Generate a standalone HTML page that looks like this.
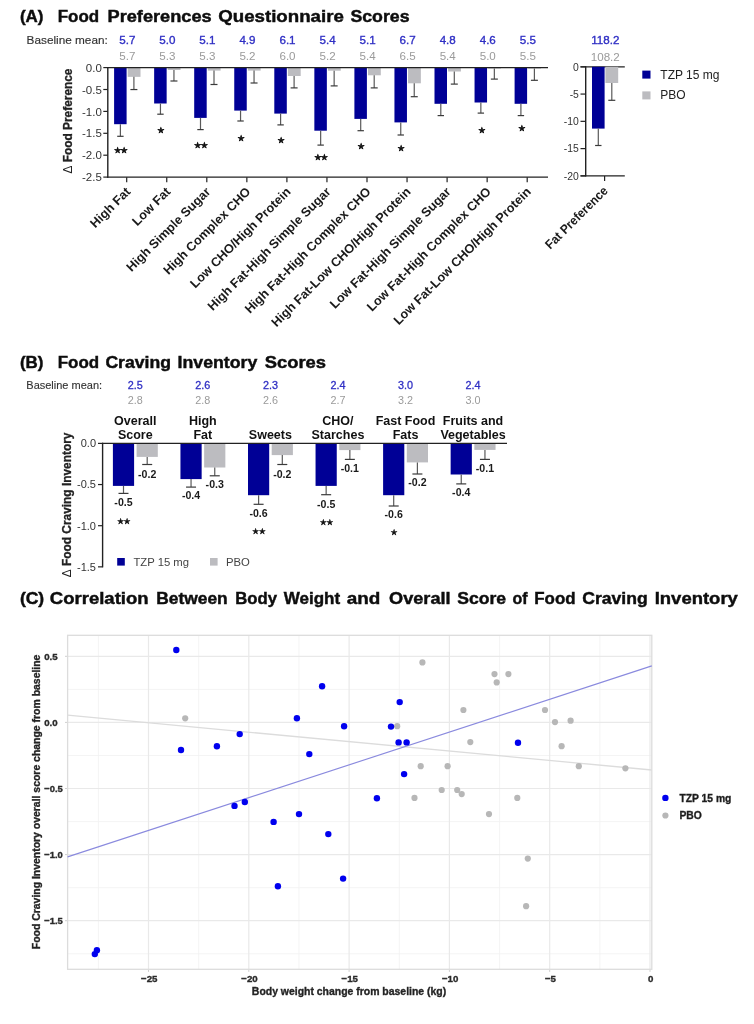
<!DOCTYPE html>
<html lang="en"><head><meta charset="utf-8"><title>Figure</title>
<style>
html,body{margin:0;padding:0;background:#fff;}
body{width:754px;height:1024px;overflow:hidden;}
svg{display:block;filter:blur(0.6px);font-family:'Liberation Sans', Arial, sans-serif;}
</style></head><body>
<svg width="754" height="1024" viewBox="0 0 754 1024">
<rect width="754" height="1024" fill="#ffffff"/>
<text x="19.90" y="22.40" font-size="17.2" font-weight="bold" fill="#0d0d0d" stroke="#0d0d0d" stroke-width="0.45" textLength="23.50" lengthAdjust="spacingAndGlyphs">(A)</text>
<text x="57.70" y="22.40" font-size="17.2" font-weight="bold" fill="#0d0d0d" stroke="#0d0d0d" stroke-width="0.45" textLength="41.40" lengthAdjust="spacingAndGlyphs">Food</text>
<text x="107.50" y="22.40" font-size="17.2" font-weight="bold" fill="#0d0d0d" stroke="#0d0d0d" stroke-width="0.45" textLength="104.20" lengthAdjust="spacingAndGlyphs">Preferences</text>
<text x="218.20" y="22.40" font-size="17.2" font-weight="bold" fill="#0d0d0d" stroke="#0d0d0d" stroke-width="0.45" textLength="125.60" lengthAdjust="spacingAndGlyphs">Questionnaire</text>
<text x="350.40" y="22.40" font-size="17.2" font-weight="bold" fill="#0d0d0d" stroke="#0d0d0d" stroke-width="0.45" textLength="59.10" lengthAdjust="spacingAndGlyphs">Scores</text>
<text x="26.60" y="43.90" font-size="11.7" font-weight="normal" fill="#333" text-anchor="start" textLength="81.2" lengthAdjust="spacingAndGlyphs" stroke="#333" stroke-width="0.15">Baseline mean:</text>
<rect x="114.10" y="67.60" width="12.50" height="56.60" fill="#000096"/>
<rect x="127.70" y="67.60" width="12.80" height="9.25" fill="#bcbcc0"/>
<line x1="120.40" y1="124.20" x2="120.40" y2="136.30" stroke="#5a5a5a" stroke-width="1.2" />
<line x1="117.20" y1="136.30" x2="123.60" y2="136.30" stroke="#3a3a3a" stroke-width="1.2" />
<line x1="133.90" y1="76.85" x2="133.90" y2="89.55" stroke="#5a5a5a" stroke-width="1.2" />
<line x1="130.40" y1="89.55" x2="137.40" y2="89.55" stroke="#3a3a3a" stroke-width="1.2" />
<text x="127.30" y="43.90" font-size="11.6" font-weight="normal" fill="#2f2fc4" text-anchor="middle" stroke="#2f2fc4" stroke-width="0.35">5.7</text>
<text x="127.30" y="59.90" font-size="11.6" font-weight="normal" fill="#9a9a9a" text-anchor="middle" >5.7</text>
<text x="120.60" y="153.10" font-size="8.1" font-weight="normal" fill="#111" text-anchor="middle" font-family="DejaVu Sans, sans-serif" letter-spacing="-0.6" stroke="#111" stroke-width="0.6" stroke-linejoin="round">★★</text>
<line x1="126.70" y1="177.20" x2="126.70" y2="182.20" stroke="#222" stroke-width="1.2" />
<text transform="translate(131.20,192.50) rotate(-45)" font-size="12.7" font-weight="bold" fill="#1a1a1a" text-anchor="end">High Fat</text>
<rect x="154.15" y="67.60" width="12.50" height="35.90" fill="#000096"/>
<rect x="167.75" y="67.60" width="12.80" height="2.40" fill="#bcbcc0"/>
<line x1="160.45" y1="103.50" x2="160.45" y2="114.20" stroke="#5a5a5a" stroke-width="1.2" />
<line x1="157.25" y1="114.20" x2="163.65" y2="114.20" stroke="#3a3a3a" stroke-width="1.2" />
<line x1="173.95" y1="70.00" x2="173.95" y2="81.00" stroke="#5a5a5a" stroke-width="1.2" />
<line x1="170.45" y1="81.00" x2="177.45" y2="81.00" stroke="#3a3a3a" stroke-width="1.2" />
<text x="167.35" y="43.90" font-size="11.6" font-weight="normal" fill="#2f2fc4" text-anchor="middle" stroke="#2f2fc4" stroke-width="0.35">5.0</text>
<text x="167.35" y="59.90" font-size="11.6" font-weight="normal" fill="#9a9a9a" text-anchor="middle" >5.3</text>
<text x="160.65" y="132.50" font-size="8.1" font-weight="normal" fill="#111" text-anchor="middle" font-family="DejaVu Sans, sans-serif" letter-spacing="-0.6" stroke="#111" stroke-width="0.6" stroke-linejoin="round">★</text>
<line x1="166.75" y1="177.20" x2="166.75" y2="182.20" stroke="#222" stroke-width="1.2" />
<text transform="translate(171.25,192.50) rotate(-45)" font-size="12.7" font-weight="bold" fill="#1a1a1a" text-anchor="end">Low Fat</text>
<rect x="194.20" y="67.60" width="12.50" height="50.30" fill="#000096"/>
<rect x="207.80" y="67.60" width="12.80" height="3.00" fill="#bcbcc0"/>
<line x1="200.50" y1="117.90" x2="200.50" y2="129.60" stroke="#5a5a5a" stroke-width="1.2" />
<line x1="197.30" y1="129.60" x2="203.70" y2="129.60" stroke="#3a3a3a" stroke-width="1.2" />
<line x1="214.00" y1="70.60" x2="214.00" y2="84.50" stroke="#5a5a5a" stroke-width="1.2" />
<line x1="210.50" y1="84.50" x2="217.50" y2="84.50" stroke="#3a3a3a" stroke-width="1.2" />
<text x="207.40" y="43.90" font-size="11.6" font-weight="normal" fill="#2f2fc4" text-anchor="middle" stroke="#2f2fc4" stroke-width="0.35">5.1</text>
<text x="207.40" y="59.90" font-size="11.6" font-weight="normal" fill="#9a9a9a" text-anchor="middle" >5.3</text>
<text x="200.70" y="148.00" font-size="8.1" font-weight="normal" fill="#111" text-anchor="middle" font-family="DejaVu Sans, sans-serif" letter-spacing="-0.6" stroke="#111" stroke-width="0.6" stroke-linejoin="round">★★</text>
<line x1="206.80" y1="177.20" x2="206.80" y2="182.20" stroke="#222" stroke-width="1.2" />
<text transform="translate(211.30,192.50) rotate(-45)" font-size="12.7" font-weight="bold" fill="#1a1a1a" text-anchor="end">High Simple Sugar</text>
<rect x="234.25" y="67.60" width="12.50" height="43.00" fill="#000096"/>
<rect x="247.85" y="67.60" width="12.80" height="3.00" fill="#bcbcc0"/>
<line x1="240.55" y1="110.60" x2="240.55" y2="121.00" stroke="#5a5a5a" stroke-width="1.2" />
<line x1="237.35" y1="121.00" x2="243.75" y2="121.00" stroke="#3a3a3a" stroke-width="1.2" />
<line x1="254.05" y1="70.60" x2="254.05" y2="83.00" stroke="#5a5a5a" stroke-width="1.2" />
<line x1="250.55" y1="83.00" x2="257.55" y2="83.00" stroke="#3a3a3a" stroke-width="1.2" />
<text x="247.45" y="43.90" font-size="11.6" font-weight="normal" fill="#2f2fc4" text-anchor="middle" stroke="#2f2fc4" stroke-width="0.35">4.9</text>
<text x="247.45" y="59.90" font-size="11.6" font-weight="normal" fill="#9a9a9a" text-anchor="middle" >5.2</text>
<text x="240.75" y="140.70" font-size="8.1" font-weight="normal" fill="#111" text-anchor="middle" font-family="DejaVu Sans, sans-serif" letter-spacing="-0.6" stroke="#111" stroke-width="0.6" stroke-linejoin="round">★</text>
<line x1="246.85" y1="177.20" x2="246.85" y2="182.20" stroke="#222" stroke-width="1.2" />
<text transform="translate(251.35,192.50) rotate(-45)" font-size="12.7" font-weight="bold" fill="#1a1a1a" text-anchor="end">High Complex CHO</text>
<rect x="274.30" y="67.60" width="12.50" height="46.00" fill="#000096"/>
<rect x="287.90" y="67.60" width="12.80" height="8.40" fill="#bcbcc0"/>
<line x1="280.60" y1="113.60" x2="280.60" y2="124.90" stroke="#5a5a5a" stroke-width="1.2" />
<line x1="277.40" y1="124.90" x2="283.80" y2="124.90" stroke="#3a3a3a" stroke-width="1.2" />
<line x1="294.10" y1="76.00" x2="294.10" y2="87.90" stroke="#5a5a5a" stroke-width="1.2" />
<line x1="290.60" y1="87.90" x2="297.60" y2="87.90" stroke="#3a3a3a" stroke-width="1.2" />
<text x="287.50" y="43.90" font-size="11.6" font-weight="normal" fill="#2f2fc4" text-anchor="middle" stroke="#2f2fc4" stroke-width="0.35">6.1</text>
<text x="287.50" y="59.90" font-size="11.6" font-weight="normal" fill="#9a9a9a" text-anchor="middle" >6.0</text>
<text x="280.80" y="143.20" font-size="8.1" font-weight="normal" fill="#111" text-anchor="middle" font-family="DejaVu Sans, sans-serif" letter-spacing="-0.6" stroke="#111" stroke-width="0.6" stroke-linejoin="round">★</text>
<line x1="286.90" y1="177.20" x2="286.90" y2="182.20" stroke="#222" stroke-width="1.2" />
<text transform="translate(291.40,192.50) rotate(-45)" font-size="12.7" font-weight="bold" fill="#1a1a1a" text-anchor="end">Low CHO/High Protein</text>
<rect x="314.35" y="67.60" width="12.50" height="63.10" fill="#000096"/>
<rect x="327.95" y="67.60" width="12.80" height="3.10" fill="#bcbcc0"/>
<line x1="320.65" y1="130.70" x2="320.65" y2="145.10" stroke="#5a5a5a" stroke-width="1.2" />
<line x1="317.45" y1="145.10" x2="323.85" y2="145.10" stroke="#3a3a3a" stroke-width="1.2" />
<line x1="334.15" y1="70.70" x2="334.15" y2="85.90" stroke="#5a5a5a" stroke-width="1.2" />
<line x1="330.65" y1="85.90" x2="337.65" y2="85.90" stroke="#3a3a3a" stroke-width="1.2" />
<text x="327.55" y="43.90" font-size="11.6" font-weight="normal" fill="#2f2fc4" text-anchor="middle" stroke="#2f2fc4" stroke-width="0.35">5.4</text>
<text x="327.55" y="59.90" font-size="11.6" font-weight="normal" fill="#9a9a9a" text-anchor="middle" >5.2</text>
<text x="320.85" y="159.90" font-size="8.1" font-weight="normal" fill="#111" text-anchor="middle" font-family="DejaVu Sans, sans-serif" letter-spacing="-0.6" stroke="#111" stroke-width="0.6" stroke-linejoin="round">★★</text>
<line x1="326.95" y1="177.20" x2="326.95" y2="182.20" stroke="#222" stroke-width="1.2" />
<text transform="translate(331.45,192.50) rotate(-45)" font-size="12.7" font-weight="bold" fill="#1a1a1a" text-anchor="end">High Fat-High Simple Sugar</text>
<rect x="354.40" y="67.60" width="12.50" height="51.30" fill="#000096"/>
<rect x="368.00" y="67.60" width="12.80" height="7.70" fill="#bcbcc0"/>
<line x1="360.70" y1="118.90" x2="360.70" y2="130.70" stroke="#5a5a5a" stroke-width="1.2" />
<line x1="357.50" y1="130.70" x2="363.90" y2="130.70" stroke="#3a3a3a" stroke-width="1.2" />
<line x1="374.20" y1="75.30" x2="374.20" y2="87.90" stroke="#5a5a5a" stroke-width="1.2" />
<line x1="370.70" y1="87.90" x2="377.70" y2="87.90" stroke="#3a3a3a" stroke-width="1.2" />
<text x="367.60" y="43.90" font-size="11.6" font-weight="normal" fill="#2f2fc4" text-anchor="middle" stroke="#2f2fc4" stroke-width="0.35">5.1</text>
<text x="367.60" y="59.90" font-size="11.6" font-weight="normal" fill="#9a9a9a" text-anchor="middle" >5.4</text>
<text x="360.90" y="148.50" font-size="8.1" font-weight="normal" fill="#111" text-anchor="middle" font-family="DejaVu Sans, sans-serif" letter-spacing="-0.6" stroke="#111" stroke-width="0.6" stroke-linejoin="round">★</text>
<line x1="367.00" y1="177.20" x2="367.00" y2="182.20" stroke="#222" stroke-width="1.2" />
<text transform="translate(371.50,192.50) rotate(-45)" font-size="12.7" font-weight="bold" fill="#1a1a1a" text-anchor="end">High Fat-High Complex CHO</text>
<rect x="394.45" y="67.60" width="12.50" height="54.80" fill="#000096"/>
<rect x="408.05" y="67.60" width="12.80" height="15.70" fill="#bcbcc0"/>
<line x1="400.75" y1="122.40" x2="400.75" y2="135.00" stroke="#5a5a5a" stroke-width="1.2" />
<line x1="397.55" y1="135.00" x2="403.95" y2="135.00" stroke="#3a3a3a" stroke-width="1.2" />
<line x1="414.25" y1="83.30" x2="414.25" y2="96.70" stroke="#5a5a5a" stroke-width="1.2" />
<line x1="410.75" y1="96.70" x2="417.75" y2="96.70" stroke="#3a3a3a" stroke-width="1.2" />
<text x="407.65" y="43.90" font-size="11.6" font-weight="normal" fill="#2f2fc4" text-anchor="middle" stroke="#2f2fc4" stroke-width="0.35">6.7</text>
<text x="407.65" y="59.90" font-size="11.6" font-weight="normal" fill="#9a9a9a" text-anchor="middle" >6.5</text>
<text x="400.95" y="150.90" font-size="8.1" font-weight="normal" fill="#111" text-anchor="middle" font-family="DejaVu Sans, sans-serif" letter-spacing="-0.6" stroke="#111" stroke-width="0.6" stroke-linejoin="round">★</text>
<line x1="407.05" y1="177.20" x2="407.05" y2="182.20" stroke="#222" stroke-width="1.2" />
<text transform="translate(411.55,192.50) rotate(-45)" font-size="12.7" font-weight="bold" fill="#1a1a1a" text-anchor="end">High Fat-Low CHO/High Protein</text>
<rect x="434.50" y="67.60" width="12.50" height="36.20" fill="#000096"/>
<rect x="448.10" y="67.60" width="12.80" height="3.90" fill="#bcbcc0"/>
<line x1="440.80" y1="103.80" x2="440.80" y2="115.60" stroke="#5a5a5a" stroke-width="1.2" />
<line x1="437.60" y1="115.60" x2="444.00" y2="115.60" stroke="#3a3a3a" stroke-width="1.2" />
<line x1="454.30" y1="71.50" x2="454.30" y2="84.10" stroke="#5a5a5a" stroke-width="1.2" />
<line x1="450.80" y1="84.10" x2="457.80" y2="84.10" stroke="#3a3a3a" stroke-width="1.2" />
<text x="447.70" y="43.90" font-size="11.6" font-weight="normal" fill="#2f2fc4" text-anchor="middle" stroke="#2f2fc4" stroke-width="0.35">4.8</text>
<text x="447.70" y="59.90" font-size="11.6" font-weight="normal" fill="#9a9a9a" text-anchor="middle" >5.4</text>
<line x1="447.10" y1="177.20" x2="447.10" y2="182.20" stroke="#222" stroke-width="1.2" />
<text transform="translate(451.60,192.50) rotate(-45)" font-size="12.7" font-weight="bold" fill="#1a1a1a" text-anchor="end">Low Fat-High Simple Sugar</text>
<rect x="474.55" y="67.60" width="12.50" height="34.90" fill="#000096"/>
<rect x="488.15" y="67.60" width="12.80" height="1.00" fill="#bcbcc0"/>
<line x1="480.85" y1="102.50" x2="480.85" y2="113.10" stroke="#5a5a5a" stroke-width="1.2" />
<line x1="477.65" y1="113.10" x2="484.05" y2="113.10" stroke="#3a3a3a" stroke-width="1.2" />
<line x1="494.35" y1="68.60" x2="494.35" y2="79.10" stroke="#5a5a5a" stroke-width="1.2" />
<line x1="490.85" y1="79.10" x2="497.85" y2="79.10" stroke="#3a3a3a" stroke-width="1.2" />
<text x="487.75" y="43.90" font-size="11.6" font-weight="normal" fill="#2f2fc4" text-anchor="middle" stroke="#2f2fc4" stroke-width="0.35">4.6</text>
<text x="487.75" y="59.90" font-size="11.6" font-weight="normal" fill="#9a9a9a" text-anchor="middle" >5.0</text>
<text x="481.55" y="132.80" font-size="8.1" font-weight="normal" fill="#111" text-anchor="middle" font-family="DejaVu Sans, sans-serif" letter-spacing="-0.6" stroke="#111" stroke-width="0.6" stroke-linejoin="round">★</text>
<line x1="487.15" y1="177.20" x2="487.15" y2="182.20" stroke="#222" stroke-width="1.2" />
<text transform="translate(491.65,192.50) rotate(-45)" font-size="12.7" font-weight="bold" fill="#1a1a1a" text-anchor="end">Low Fat-High Complex CHO</text>
<rect x="514.60" y="67.60" width="12.50" height="36.20" fill="#000096"/>
<rect x="528.20" y="67.60" width="12.80" height="1.00" fill="#bcbcc0"/>
<line x1="520.90" y1="103.80" x2="520.90" y2="115.60" stroke="#5a5a5a" stroke-width="1.2" />
<line x1="517.70" y1="115.60" x2="524.10" y2="115.60" stroke="#3a3a3a" stroke-width="1.2" />
<line x1="534.40" y1="68.60" x2="534.40" y2="80.30" stroke="#5a5a5a" stroke-width="1.2" />
<line x1="530.90" y1="80.30" x2="537.90" y2="80.30" stroke="#3a3a3a" stroke-width="1.2" />
<text x="527.80" y="43.90" font-size="11.6" font-weight="normal" fill="#2f2fc4" text-anchor="middle" stroke="#2f2fc4" stroke-width="0.35">5.5</text>
<text x="527.80" y="59.90" font-size="11.6" font-weight="normal" fill="#9a9a9a" text-anchor="middle" >5.5</text>
<text x="521.60" y="130.70" font-size="8.1" font-weight="normal" fill="#111" text-anchor="middle" font-family="DejaVu Sans, sans-serif" letter-spacing="-0.6" stroke="#111" stroke-width="0.6" stroke-linejoin="round">★</text>
<line x1="527.20" y1="177.20" x2="527.20" y2="182.20" stroke="#222" stroke-width="1.2" />
<text transform="translate(531.70,192.50) rotate(-45)" font-size="12.7" font-weight="bold" fill="#1a1a1a" text-anchor="end">Low Fat-Low CHO/High Protein</text>
<line x1="107.80" y1="67.00" x2="107.80" y2="177.80" stroke="#222" stroke-width="1.4" />
<line x1="107.10" y1="67.60" x2="548.00" y2="67.60" stroke="#222" stroke-width="1.3" />
<line x1="107.10" y1="177.20" x2="548.00" y2="177.20" stroke="#222" stroke-width="1.3" />
<line x1="103.30" y1="67.60" x2="107.80" y2="67.60" stroke="#222" stroke-width="1.2" />
<text x="101.80" y="71.70" font-size="11.5" font-weight="normal" fill="#333" text-anchor="end" >0.0</text>
<line x1="103.30" y1="89.50" x2="107.80" y2="89.50" stroke="#222" stroke-width="1.2" />
<text x="101.80" y="93.60" font-size="11.5" font-weight="normal" fill="#333" text-anchor="end" >-0.5</text>
<line x1="103.30" y1="111.40" x2="107.80" y2="111.40" stroke="#222" stroke-width="1.2" />
<text x="101.80" y="115.50" font-size="11.5" font-weight="normal" fill="#333" text-anchor="end" >-1.0</text>
<line x1="103.30" y1="133.30" x2="107.80" y2="133.30" stroke="#222" stroke-width="1.2" />
<text x="101.80" y="137.40" font-size="11.5" font-weight="normal" fill="#333" text-anchor="end" >-1.5</text>
<line x1="103.30" y1="155.20" x2="107.80" y2="155.20" stroke="#222" stroke-width="1.2" />
<text x="101.80" y="159.30" font-size="11.5" font-weight="normal" fill="#333" text-anchor="end" >-2.0</text>
<line x1="103.30" y1="177.10" x2="107.80" y2="177.10" stroke="#222" stroke-width="1.2" />
<text x="101.80" y="181.20" font-size="11.5" font-weight="normal" fill="#333" text-anchor="end" >-2.5</text>
<text transform="translate(72.0,173.6) rotate(-90)" font-size="11.9" font-weight="bold" fill="#222" stroke="#222" stroke-width="0.3"><tspan font-weight="normal" stroke="none">Δ</tspan> Food Preference</text>
<line x1="585.70" y1="66.20" x2="585.70" y2="176.50" stroke="#222" stroke-width="1.4" />
<line x1="580.50" y1="66.80" x2="624.80" y2="66.80" stroke="#222" stroke-width="1.3" />
<line x1="580.50" y1="175.90" x2="624.80" y2="175.90" stroke="#222" stroke-width="1.3" />
<line x1="580.50" y1="66.80" x2="585.70" y2="66.80" stroke="#222" stroke-width="1.2" />
<text x="578.90" y="70.50" font-size="10.4" font-weight="normal" fill="#333" text-anchor="end" >0</text>
<line x1="580.50" y1="94.07" x2="585.70" y2="94.07" stroke="#222" stroke-width="1.2" />
<text x="578.90" y="97.77" font-size="10.4" font-weight="normal" fill="#333" text-anchor="end" >-5</text>
<line x1="580.50" y1="121.34" x2="585.70" y2="121.34" stroke="#222" stroke-width="1.2" />
<text x="578.90" y="125.04" font-size="10.4" font-weight="normal" fill="#333" text-anchor="end" >-10</text>
<line x1="580.50" y1="148.61" x2="585.70" y2="148.61" stroke="#222" stroke-width="1.2" />
<text x="578.90" y="152.31" font-size="10.4" font-weight="normal" fill="#333" text-anchor="end" >-15</text>
<line x1="580.50" y1="175.88" x2="585.70" y2="175.88" stroke="#222" stroke-width="1.2" />
<text x="578.90" y="179.58" font-size="10.4" font-weight="normal" fill="#333" text-anchor="end" >-20</text>
<rect x="592.00" y="66.80" width="12.60" height="61.80" fill="#000096"/>
<rect x="605.40" y="66.80" width="12.80" height="16.20" fill="#bcbcc0"/>
<line x1="598.30" y1="128.60" x2="598.30" y2="145.50" stroke="#5a5a5a" stroke-width="1.2" />
<line x1="595.10" y1="145.50" x2="601.50" y2="145.50" stroke="#3a3a3a" stroke-width="1.2" />
<line x1="611.80" y1="83.00" x2="611.80" y2="100.30" stroke="#5a5a5a" stroke-width="1.2" />
<line x1="608.30" y1="100.30" x2="615.30" y2="100.30" stroke="#3a3a3a" stroke-width="1.2" />
<line x1="604.60" y1="175.90" x2="604.60" y2="180.90" stroke="#222" stroke-width="1.2" />
<text x="605.30" y="44.40" font-size="11.6" font-weight="normal" fill="#2f2fc4" text-anchor="middle" stroke="#2f2fc4" stroke-width="0.35">118.2</text>
<text x="605.30" y="60.60" font-size="11.6" font-weight="normal" fill="#9a9a9a" text-anchor="middle" >108.2</text>
<text transform="translate(608.60,191.50) rotate(-45) scale(0.935,1)" font-size="12.7" font-weight="bold" fill="#1a1a1a" text-anchor="end">Fat Preference</text>
<rect x="642.30" y="70.60" width="8.20" height="8.00" fill="#000096"/>
<rect x="642.30" y="91.40" width="8.20" height="8.00" fill="#bcbcc0"/>
<text x="660.30" y="78.80" font-size="12" font-weight="normal" fill="#222" text-anchor="start" >TZP 15 mg</text>
<text x="660.30" y="98.80" font-size="12" font-weight="normal" fill="#222" text-anchor="start" >PBO</text>
<text x="19.90" y="368.20" font-size="17.2" font-weight="bold" fill="#0d0d0d" stroke="#0d0d0d" stroke-width="0.45" textLength="23.50" lengthAdjust="spacingAndGlyphs">(B)</text>
<text x="57.70" y="368.20" font-size="17.2" font-weight="bold" fill="#0d0d0d" stroke="#0d0d0d" stroke-width="0.45" textLength="41.40" lengthAdjust="spacingAndGlyphs">Food</text>
<text x="105.40" y="368.20" font-size="17.2" font-weight="bold" fill="#0d0d0d" stroke="#0d0d0d" stroke-width="0.45" textLength="65.60" lengthAdjust="spacingAndGlyphs">Craving</text>
<text x="177.60" y="368.20" font-size="17.2" font-weight="bold" fill="#0d0d0d" stroke="#0d0d0d" stroke-width="0.45" textLength="79.70" lengthAdjust="spacingAndGlyphs">Inventory</text>
<text x="264.70" y="368.20" font-size="17.2" font-weight="bold" fill="#0d0d0d" stroke="#0d0d0d" stroke-width="0.45" textLength="61.30" lengthAdjust="spacingAndGlyphs">Scores</text>
<text x="26.30" y="388.90" font-size="10.9" font-weight="normal" fill="#333" text-anchor="start" textLength="75.8" lengthAdjust="spacingAndGlyphs" stroke="#333" stroke-width="0.12">Baseline mean:</text>
<rect x="112.90" y="443.40" width="21.20" height="42.50" fill="#000096"/>
<rect x="136.60" y="443.40" width="21.20" height="13.50" fill="#bcbcc0"/>
<line x1="123.50" y1="485.90" x2="123.50" y2="493.40" stroke="#5a5a5a" stroke-width="1.2" />
<line x1="118.50" y1="493.40" x2="128.50" y2="493.40" stroke="#3a3a3a" stroke-width="1.2" />
<line x1="147.20" y1="456.90" x2="147.20" y2="464.50" stroke="#5a5a5a" stroke-width="1.2" />
<line x1="142.20" y1="464.50" x2="152.20" y2="464.50" stroke="#3a3a3a" stroke-width="1.2" />
<text x="123.50" y="506.40" font-size="10.6" font-weight="bold" fill="#1a1a1a" text-anchor="middle" >-0.5</text>
<text x="147.20" y="477.50" font-size="10.6" font-weight="bold" fill="#1a1a1a" text-anchor="middle" >-0.2</text>
<text x="135.30" y="388.90" font-size="10.8" font-weight="normal" fill="#2f2fc4" text-anchor="middle" stroke="#2f2fc4" stroke-width="0.3">2.5</text>
<text x="135.30" y="404.20" font-size="10.8" font-weight="normal" fill="#9a9a9a" text-anchor="middle" >2.8</text>
<text x="135.30" y="424.60" font-size="12.5" font-weight="bold" fill="#111" text-anchor="middle" >Overall</text>
<text x="135.30" y="439.20" font-size="12.5" font-weight="bold" fill="#111" text-anchor="middle" >Score</text>
<text x="123.60" y="523.60" font-size="8.0" font-weight="normal" fill="#111" text-anchor="middle" font-family="DejaVu Sans, sans-serif" letter-spacing="-0.6" stroke="#111" stroke-width="0.45" stroke-linejoin="round">★★</text>
<rect x="180.45" y="443.40" width="21.20" height="35.70" fill="#000096"/>
<rect x="204.15" y="443.40" width="21.20" height="24.10" fill="#bcbcc0"/>
<line x1="191.05" y1="479.10" x2="191.05" y2="487.10" stroke="#5a5a5a" stroke-width="1.2" />
<line x1="186.05" y1="487.10" x2="196.05" y2="487.10" stroke="#3a3a3a" stroke-width="1.2" />
<line x1="214.75" y1="467.50" x2="214.75" y2="475.80" stroke="#5a5a5a" stroke-width="1.2" />
<line x1="209.75" y1="475.80" x2="219.75" y2="475.80" stroke="#3a3a3a" stroke-width="1.2" />
<text x="191.05" y="499.40" font-size="10.6" font-weight="bold" fill="#1a1a1a" text-anchor="middle" >-0.4</text>
<text x="214.75" y="488.10" font-size="10.6" font-weight="bold" fill="#1a1a1a" text-anchor="middle" >-0.3</text>
<text x="202.85" y="388.90" font-size="10.8" font-weight="normal" fill="#2f2fc4" text-anchor="middle" stroke="#2f2fc4" stroke-width="0.3">2.6</text>
<text x="202.85" y="404.20" font-size="10.8" font-weight="normal" fill="#9a9a9a" text-anchor="middle" >2.8</text>
<text x="202.85" y="424.60" font-size="12.5" font-weight="bold" fill="#111" text-anchor="middle" >High</text>
<text x="202.85" y="439.20" font-size="12.5" font-weight="bold" fill="#111" text-anchor="middle" >Fat</text>
<rect x="248.00" y="443.40" width="21.20" height="51.80" fill="#000096"/>
<rect x="271.70" y="443.40" width="21.20" height="11.70" fill="#bcbcc0"/>
<line x1="258.60" y1="495.20" x2="258.60" y2="504.30" stroke="#5a5a5a" stroke-width="1.2" />
<line x1="253.60" y1="504.30" x2="263.60" y2="504.30" stroke="#3a3a3a" stroke-width="1.2" />
<line x1="282.30" y1="455.10" x2="282.30" y2="464.50" stroke="#5a5a5a" stroke-width="1.2" />
<line x1="277.30" y1="464.50" x2="287.30" y2="464.50" stroke="#3a3a3a" stroke-width="1.2" />
<text x="258.60" y="516.50" font-size="10.6" font-weight="bold" fill="#1a1a1a" text-anchor="middle" >-0.6</text>
<text x="282.30" y="477.50" font-size="10.6" font-weight="bold" fill="#1a1a1a" text-anchor="middle" >-0.2</text>
<text x="270.40" y="388.90" font-size="10.8" font-weight="normal" fill="#2f2fc4" text-anchor="middle" stroke="#2f2fc4" stroke-width="0.3">2.3</text>
<text x="270.40" y="404.20" font-size="10.8" font-weight="normal" fill="#9a9a9a" text-anchor="middle" >2.6</text>
<text x="270.40" y="439.20" font-size="12.5" font-weight="bold" fill="#111" text-anchor="middle" >Sweets</text>
<text x="258.70" y="534.20" font-size="8.0" font-weight="normal" fill="#111" text-anchor="middle" font-family="DejaVu Sans, sans-serif" letter-spacing="-0.6" stroke="#111" stroke-width="0.45" stroke-linejoin="round">★★</text>
<rect x="315.55" y="443.40" width="21.20" height="42.50" fill="#000096"/>
<rect x="339.25" y="443.40" width="21.20" height="6.70" fill="#bcbcc0"/>
<line x1="326.15" y1="485.90" x2="326.15" y2="494.70" stroke="#5a5a5a" stroke-width="1.2" />
<line x1="321.15" y1="494.70" x2="331.15" y2="494.70" stroke="#3a3a3a" stroke-width="1.2" />
<line x1="349.85" y1="450.10" x2="349.85" y2="459.40" stroke="#5a5a5a" stroke-width="1.2" />
<line x1="344.85" y1="459.40" x2="354.85" y2="459.40" stroke="#3a3a3a" stroke-width="1.2" />
<text x="326.15" y="507.70" font-size="10.6" font-weight="bold" fill="#1a1a1a" text-anchor="middle" >-0.5</text>
<text x="349.85" y="472.40" font-size="10.6" font-weight="bold" fill="#1a1a1a" text-anchor="middle" >-0.1</text>
<text x="337.95" y="388.90" font-size="10.8" font-weight="normal" fill="#2f2fc4" text-anchor="middle" stroke="#2f2fc4" stroke-width="0.3">2.4</text>
<text x="337.95" y="404.20" font-size="10.8" font-weight="normal" fill="#9a9a9a" text-anchor="middle" >2.7</text>
<text x="337.95" y="424.60" font-size="12.5" font-weight="bold" fill="#111" text-anchor="middle" >CHO/</text>
<text x="337.95" y="439.20" font-size="12.5" font-weight="bold" fill="#111" text-anchor="middle" >Starches</text>
<text x="326.25" y="524.80" font-size="8.0" font-weight="normal" fill="#111" text-anchor="middle" font-family="DejaVu Sans, sans-serif" letter-spacing="-0.6" stroke="#111" stroke-width="0.45" stroke-linejoin="round">★★</text>
<rect x="383.10" y="443.40" width="21.20" height="51.80" fill="#000096"/>
<rect x="406.80" y="443.40" width="21.20" height="19.00" fill="#bcbcc0"/>
<line x1="393.70" y1="495.20" x2="393.70" y2="506.00" stroke="#5a5a5a" stroke-width="1.2" />
<line x1="388.70" y1="506.00" x2="398.70" y2="506.00" stroke="#3a3a3a" stroke-width="1.2" />
<line x1="417.40" y1="462.40" x2="417.40" y2="474.00" stroke="#5a5a5a" stroke-width="1.2" />
<line x1="412.40" y1="474.00" x2="422.40" y2="474.00" stroke="#3a3a3a" stroke-width="1.2" />
<text x="393.70" y="517.80" font-size="10.6" font-weight="bold" fill="#1a1a1a" text-anchor="middle" >-0.6</text>
<text x="417.40" y="486.30" font-size="10.6" font-weight="bold" fill="#1a1a1a" text-anchor="middle" >-0.2</text>
<text x="405.50" y="388.90" font-size="10.8" font-weight="normal" fill="#2f2fc4" text-anchor="middle" stroke="#2f2fc4" stroke-width="0.3">3.0</text>
<text x="405.50" y="404.20" font-size="10.8" font-weight="normal" fill="#9a9a9a" text-anchor="middle" >3.2</text>
<text x="405.50" y="424.60" font-size="12.5" font-weight="bold" fill="#111" text-anchor="middle" >Fast Food</text>
<text x="405.50" y="439.20" font-size="12.5" font-weight="bold" fill="#111" text-anchor="middle" >Fats</text>
<text x="393.80" y="535.30" font-size="8.0" font-weight="normal" fill="#111" text-anchor="middle" font-family="DejaVu Sans, sans-serif" letter-spacing="-0.6" stroke="#111" stroke-width="0.45" stroke-linejoin="round">★</text>
<rect x="450.65" y="443.40" width="21.20" height="31.10" fill="#000096"/>
<rect x="474.35" y="443.40" width="21.20" height="6.50" fill="#bcbcc0"/>
<line x1="461.25" y1="474.50" x2="461.25" y2="483.90" stroke="#5a5a5a" stroke-width="1.2" />
<line x1="456.25" y1="483.90" x2="466.25" y2="483.90" stroke="#3a3a3a" stroke-width="1.2" />
<line x1="484.95" y1="449.90" x2="484.95" y2="459.40" stroke="#5a5a5a" stroke-width="1.2" />
<line x1="479.95" y1="459.40" x2="489.95" y2="459.40" stroke="#3a3a3a" stroke-width="1.2" />
<text x="461.25" y="495.60" font-size="10.6" font-weight="bold" fill="#1a1a1a" text-anchor="middle" >-0.4</text>
<text x="484.95" y="472.40" font-size="10.6" font-weight="bold" fill="#1a1a1a" text-anchor="middle" >-0.1</text>
<text x="473.05" y="388.90" font-size="10.8" font-weight="normal" fill="#2f2fc4" text-anchor="middle" stroke="#2f2fc4" stroke-width="0.3">2.4</text>
<text x="473.05" y="404.20" font-size="10.8" font-weight="normal" fill="#9a9a9a" text-anchor="middle" >3.0</text>
<text x="473.05" y="424.60" font-size="12.5" font-weight="bold" fill="#111" text-anchor="middle" >Fruits and</text>
<text x="473.05" y="439.20" font-size="12.5" font-weight="bold" fill="#111" text-anchor="middle" >Vegetables</text>
<line x1="102.60" y1="442.80" x2="102.60" y2="567.40" stroke="#222" stroke-width="1.4" />
<line x1="101.90" y1="443.40" x2="507.00" y2="443.40" stroke="#222" stroke-width="1.3" />
<line x1="98.00" y1="443.40" x2="102.60" y2="443.40" stroke="#222" stroke-width="1.2" />
<text x="96.00" y="447.30" font-size="11.0" font-weight="normal" fill="#333" text-anchor="end" >0.0</text>
<line x1="98.00" y1="484.55" x2="102.60" y2="484.55" stroke="#222" stroke-width="1.2" />
<text x="96.00" y="488.45" font-size="11.0" font-weight="normal" fill="#333" text-anchor="end" >-0.5</text>
<line x1="98.00" y1="525.70" x2="102.60" y2="525.70" stroke="#222" stroke-width="1.2" />
<text x="96.00" y="529.60" font-size="11.0" font-weight="normal" fill="#333" text-anchor="end" >-1.0</text>
<line x1="98.00" y1="566.85" x2="102.60" y2="566.85" stroke="#222" stroke-width="1.2" />
<text x="96.00" y="570.75" font-size="11.0" font-weight="normal" fill="#333" text-anchor="end" >-1.5</text>
<text transform="translate(70.8,577.3) rotate(-90)" font-size="11.9" font-weight="bold" fill="#222" stroke="#222" stroke-width="0.3"><tspan font-weight="normal" stroke="none">Δ</tspan> Food Craving Inventory</text>
<rect x="117.20" y="558.00" width="7.60" height="7.60" fill="#000096"/>
<rect x="210.00" y="558.00" width="7.60" height="7.60" fill="#bcbcc0"/>
<text x="133.40" y="565.80" font-size="11.3" font-weight="normal" fill="#444" text-anchor="start" >TZP 15 mg</text>
<text x="226.00" y="565.80" font-size="11.3" font-weight="normal" fill="#444" text-anchor="start" >PBO</text>
<text x="19.90" y="604.20" font-size="17.3" font-weight="bold" fill="#0d0d0d" stroke="#0d0d0d" stroke-width="0.45" textLength="24.30" lengthAdjust="spacingAndGlyphs">(C)</text>
<text x="49.80" y="604.20" font-size="17.3" font-weight="bold" fill="#0d0d0d" stroke="#0d0d0d" stroke-width="0.45" textLength="98.80" lengthAdjust="spacingAndGlyphs">Correlation</text>
<text x="156.20" y="604.20" font-size="17.3" font-weight="bold" fill="#0d0d0d" stroke="#0d0d0d" stroke-width="0.45" textLength="71.50" lengthAdjust="spacingAndGlyphs">Between</text>
<text x="235.30" y="604.20" font-size="17.3" font-weight="bold" fill="#0d0d0d" stroke="#0d0d0d" stroke-width="0.45" textLength="41.80" lengthAdjust="spacingAndGlyphs">Body</text>
<text x="283.70" y="604.20" font-size="17.3" font-weight="bold" fill="#0d0d0d" stroke="#0d0d0d" stroke-width="0.45" textLength="56.40" lengthAdjust="spacingAndGlyphs">Weight</text>
<text x="346.70" y="604.20" font-size="17.3" font-weight="bold" fill="#0d0d0d" stroke="#0d0d0d" stroke-width="0.45" textLength="33.60" lengthAdjust="spacingAndGlyphs">and</text>
<text x="389.10" y="604.20" font-size="17.3" font-weight="bold" fill="#0d0d0d" stroke="#0d0d0d" stroke-width="0.45" textLength="61.50" lengthAdjust="spacingAndGlyphs">Overall</text>
<text x="457.20" y="604.20" font-size="17.3" font-weight="bold" fill="#0d0d0d" stroke="#0d0d0d" stroke-width="0.45" textLength="48.90" lengthAdjust="spacingAndGlyphs">Score</text>
<text x="512.60" y="604.20" font-size="17.3" font-weight="bold" fill="#0d0d0d" stroke="#0d0d0d" stroke-width="0.45" textLength="15.10" lengthAdjust="spacingAndGlyphs">of</text>
<text x="534.30" y="604.20" font-size="17.3" font-weight="bold" fill="#0d0d0d" stroke="#0d0d0d" stroke-width="0.45" textLength="41.30" lengthAdjust="spacingAndGlyphs">Food</text>
<text x="582.20" y="604.20" font-size="17.3" font-weight="bold" fill="#0d0d0d" stroke="#0d0d0d" stroke-width="0.45" textLength="65.50" lengthAdjust="spacingAndGlyphs">Craving</text>
<text x="654.70" y="604.20" font-size="17.3" font-weight="bold" fill="#0d0d0d" stroke="#0d0d0d" stroke-width="0.45" textLength="83.20" lengthAdjust="spacingAndGlyphs">Inventory</text>
<line x1="98.35" y1="635.30" x2="98.35" y2="969.30" stroke="#f1f1f1" stroke-width="0.8" />
<line x1="198.65" y1="635.30" x2="198.65" y2="969.30" stroke="#f1f1f1" stroke-width="0.8" />
<line x1="298.95" y1="635.30" x2="298.95" y2="969.30" stroke="#f1f1f1" stroke-width="0.8" />
<line x1="399.25" y1="635.30" x2="399.25" y2="969.30" stroke="#f1f1f1" stroke-width="0.8" />
<line x1="499.55" y1="635.30" x2="499.55" y2="969.30" stroke="#f1f1f1" stroke-width="0.8" />
<line x1="599.85" y1="635.30" x2="599.85" y2="969.30" stroke="#f1f1f1" stroke-width="0.8" />
<line x1="67.60" y1="689.35" x2="651.80" y2="689.35" stroke="#f1f1f1" stroke-width="0.8" />
<line x1="67.60" y1="755.45" x2="651.80" y2="755.45" stroke="#f1f1f1" stroke-width="0.8" />
<line x1="67.60" y1="821.55" x2="651.80" y2="821.55" stroke="#f1f1f1" stroke-width="0.8" />
<line x1="67.60" y1="887.65" x2="651.80" y2="887.65" stroke="#f1f1f1" stroke-width="0.8" />
<line x1="67.60" y1="953.75" x2="651.80" y2="953.75" stroke="#f1f1f1" stroke-width="0.8" />
<line x1="148.50" y1="635.30" x2="148.50" y2="969.30" stroke="#e9e9e9" stroke-width="1.2" />
<line x1="148.50" y1="969.30" x2="148.50" y2="971.90" stroke="#cfcfcf" stroke-width="1.0" />
<text x="149.20" y="981.70" font-size="9.7" font-weight="bold" fill="#2a2a2a" text-anchor="middle" stroke="#2a2a2a" stroke-width="0.35">−25</text>
<line x1="248.80" y1="635.30" x2="248.80" y2="969.30" stroke="#e9e9e9" stroke-width="1.2" />
<line x1="248.80" y1="969.30" x2="248.80" y2="971.90" stroke="#cfcfcf" stroke-width="1.0" />
<text x="249.50" y="981.70" font-size="9.7" font-weight="bold" fill="#2a2a2a" text-anchor="middle" stroke="#2a2a2a" stroke-width="0.35">−20</text>
<line x1="349.10" y1="635.30" x2="349.10" y2="969.30" stroke="#e9e9e9" stroke-width="1.2" />
<line x1="349.10" y1="969.30" x2="349.10" y2="971.90" stroke="#cfcfcf" stroke-width="1.0" />
<text x="349.80" y="981.70" font-size="9.7" font-weight="bold" fill="#2a2a2a" text-anchor="middle" stroke="#2a2a2a" stroke-width="0.35">−15</text>
<line x1="449.40" y1="635.30" x2="449.40" y2="969.30" stroke="#e9e9e9" stroke-width="1.2" />
<line x1="449.40" y1="969.30" x2="449.40" y2="971.90" stroke="#cfcfcf" stroke-width="1.0" />
<text x="450.10" y="981.70" font-size="9.7" font-weight="bold" fill="#2a2a2a" text-anchor="middle" stroke="#2a2a2a" stroke-width="0.35">−10</text>
<line x1="549.70" y1="635.30" x2="549.70" y2="969.30" stroke="#e9e9e9" stroke-width="1.2" />
<line x1="549.70" y1="969.30" x2="549.70" y2="971.90" stroke="#cfcfcf" stroke-width="1.0" />
<text x="550.40" y="981.70" font-size="9.7" font-weight="bold" fill="#2a2a2a" text-anchor="middle" stroke="#2a2a2a" stroke-width="0.35">−5</text>
<line x1="650.00" y1="635.30" x2="650.00" y2="969.30" stroke="#e9e9e9" stroke-width="1.2" />
<line x1="650.00" y1="969.30" x2="650.00" y2="971.90" stroke="#cfcfcf" stroke-width="1.0" />
<text x="650.70" y="981.70" font-size="9.7" font-weight="bold" fill="#2a2a2a" text-anchor="middle" stroke="#2a2a2a" stroke-width="0.35">0</text>
<line x1="67.60" y1="656.30" x2="651.80" y2="656.30" stroke="#e9e9e9" stroke-width="1.2" />
<line x1="65.00" y1="656.30" x2="67.60" y2="656.30" stroke="#cfcfcf" stroke-width="1.0" />
<text x="44.20" y="660.00" font-size="9.7" font-weight="bold" fill="#2a2a2a" text-anchor="start" stroke="#2a2a2a" stroke-width="0.35">0.5</text>
<line x1="67.60" y1="722.40" x2="651.80" y2="722.40" stroke="#e9e9e9" stroke-width="1.2" />
<line x1="65.00" y1="722.40" x2="67.60" y2="722.40" stroke="#cfcfcf" stroke-width="1.0" />
<text x="44.20" y="726.10" font-size="9.7" font-weight="bold" fill="#2a2a2a" text-anchor="start" stroke="#2a2a2a" stroke-width="0.35">0.0</text>
<line x1="67.60" y1="788.50" x2="651.80" y2="788.50" stroke="#e9e9e9" stroke-width="1.2" />
<line x1="65.00" y1="788.50" x2="67.60" y2="788.50" stroke="#cfcfcf" stroke-width="1.0" />
<text x="44.20" y="792.20" font-size="9.7" font-weight="bold" fill="#2a2a2a" text-anchor="start" stroke="#2a2a2a" stroke-width="0.35" textLength="18.6" lengthAdjust="spacingAndGlyphs">−0.5</text>
<line x1="67.60" y1="854.60" x2="651.80" y2="854.60" stroke="#e9e9e9" stroke-width="1.2" />
<line x1="65.00" y1="854.60" x2="67.60" y2="854.60" stroke="#cfcfcf" stroke-width="1.0" />
<text x="44.20" y="858.30" font-size="9.7" font-weight="bold" fill="#2a2a2a" text-anchor="start" stroke="#2a2a2a" stroke-width="0.35" textLength="18.6" lengthAdjust="spacingAndGlyphs">−1.0</text>
<line x1="67.60" y1="920.70" x2="651.80" y2="920.70" stroke="#e9e9e9" stroke-width="1.2" />
<line x1="65.00" y1="920.70" x2="67.60" y2="920.70" stroke="#cfcfcf" stroke-width="1.0" />
<text x="44.20" y="924.40" font-size="9.7" font-weight="bold" fill="#2a2a2a" text-anchor="start" stroke="#2a2a2a" stroke-width="0.35" textLength="18.6" lengthAdjust="spacingAndGlyphs">−1.5</text>
<rect x="67.6" y="635.3" width="584.1999999999999" height="334.0" fill="none" stroke="#dcdcdc" stroke-width="1.3"/>
<line x1="67.60" y1="715.20" x2="651.80" y2="770.00" stroke="#dcdcdc" stroke-width="1.3" />
<line x1="67.60" y1="856.90" x2="651.80" y2="665.90" stroke="#8a8ade" stroke-width="1.15" />
<circle cx="185.2" cy="718.3" r="3.1" fill="#b7b7b7"/>
<circle cx="422.4" cy="662.4" r="3.1" fill="#b7b7b7"/>
<circle cx="494.5" cy="674.1" r="3.1" fill="#b7b7b7"/>
<circle cx="508.4" cy="674.1" r="3.1" fill="#b7b7b7"/>
<circle cx="496.7" cy="682.4" r="3.1" fill="#b7b7b7"/>
<circle cx="463.4" cy="710" r="3.1" fill="#b7b7b7"/>
<circle cx="397.2" cy="726.2" r="3.1" fill="#b7b7b7"/>
<circle cx="470.3" cy="742.1" r="3.1" fill="#b7b7b7"/>
<circle cx="420.7" cy="766.2" r="3.1" fill="#b7b7b7"/>
<circle cx="447.6" cy="766.2" r="3.1" fill="#b7b7b7"/>
<circle cx="441.7" cy="790" r="3.1" fill="#b7b7b7"/>
<circle cx="457.2" cy="790" r="3.1" fill="#b7b7b7"/>
<circle cx="461.7" cy="794.1" r="3.1" fill="#b7b7b7"/>
<circle cx="414.5" cy="797.9" r="3.1" fill="#b7b7b7"/>
<circle cx="517.3" cy="797.9" r="3.1" fill="#b7b7b7"/>
<circle cx="489" cy="814.1" r="3.1" fill="#b7b7b7"/>
<circle cx="545" cy="710" r="3.1" fill="#b7b7b7"/>
<circle cx="555" cy="722.1" r="3.1" fill="#b7b7b7"/>
<circle cx="570.6" cy="720.7" r="3.1" fill="#b7b7b7"/>
<circle cx="561.6" cy="746.2" r="3.1" fill="#b7b7b7"/>
<circle cx="578.8" cy="766.2" r="3.1" fill="#b7b7b7"/>
<circle cx="625.4" cy="768.3" r="3.1" fill="#b7b7b7"/>
<circle cx="527.8" cy="858.6" r="3.1" fill="#b7b7b7"/>
<circle cx="526.1" cy="906.2" r="3.1" fill="#b7b7b7"/>
<circle cx="176.3" cy="650" r="3.2" fill="#0000ee"/>
<circle cx="181" cy="750" r="3.2" fill="#0000ee"/>
<circle cx="216.9" cy="746.2" r="3.2" fill="#0000ee"/>
<circle cx="239.7" cy="734.1" r="3.2" fill="#0000ee"/>
<circle cx="234.5" cy="805.9" r="3.2" fill="#0000ee"/>
<circle cx="244.8" cy="802.0" r="3.2" fill="#0000ee"/>
<circle cx="273.6" cy="821.9" r="3.2" fill="#0000ee"/>
<circle cx="277.9" cy="886.2" r="3.2" fill="#0000ee"/>
<circle cx="96.9" cy="950.3" r="3.2" fill="#0000ee"/>
<circle cx="94.8" cy="954.1" r="3.2" fill="#0000ee"/>
<circle cx="322.1" cy="686.2" r="3.2" fill="#0000ee"/>
<circle cx="296.9" cy="718.3" r="3.2" fill="#0000ee"/>
<circle cx="344.1" cy="726.2" r="3.2" fill="#0000ee"/>
<circle cx="391" cy="726.6" r="3.2" fill="#0000ee"/>
<circle cx="399.7" cy="702.1" r="3.2" fill="#0000ee"/>
<circle cx="398.6" cy="742.4" r="3.2" fill="#0000ee"/>
<circle cx="406.6" cy="742.4" r="3.2" fill="#0000ee"/>
<circle cx="309.3" cy="754.1" r="3.2" fill="#0000ee"/>
<circle cx="404.1" cy="774.1" r="3.2" fill="#0000ee"/>
<circle cx="376.9" cy="798.3" r="3.2" fill="#0000ee"/>
<circle cx="299" cy="814.1" r="3.2" fill="#0000ee"/>
<circle cx="518" cy="742.8" r="3.2" fill="#0000ee"/>
<circle cx="328.3" cy="834.1" r="3.2" fill="#0000ee"/>
<circle cx="343.1" cy="878.6" r="3.2" fill="#0000ee"/>
<circle cx="665.4" cy="797.9" r="3.2" fill="#0000ee"/>
<circle cx="665.4" cy="815.5" r="3.1" fill="#b7b7b7"/>
<text x="679.50" y="801.70" font-size="10.3" font-weight="bold" fill="#1a1a1a" text-anchor="start" stroke="#2a2a2a" stroke-width="0.35">TZP 15 mg</text>
<text x="679.50" y="819.30" font-size="10.3" font-weight="bold" fill="#1a1a1a" text-anchor="start" stroke="#2a2a2a" stroke-width="0.35">PBO</text>
<text x="349.00" y="995.20" font-size="10.45" font-weight="bold" fill="#222" text-anchor="middle" stroke="#2a2a2a" stroke-width="0.35">Body weight change from baseline (kg)</text>
<text transform="translate(39.9,801.9) rotate(-90)" font-size="10.45" font-weight="bold" fill="#222" stroke="#2a2a2a" stroke-width="0.35" text-anchor="middle">Food Craving Inventory overall score change from baseline</text>
</svg>
</body></html>
